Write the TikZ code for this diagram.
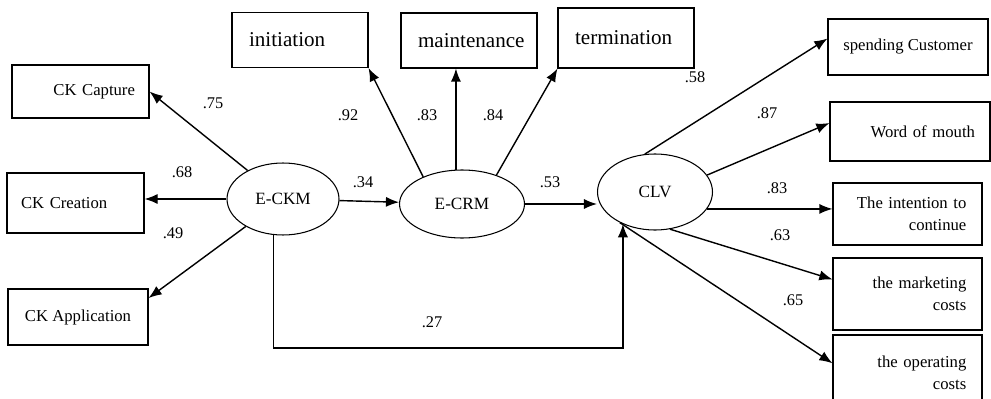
\documentclass[tikz,border=0pt]{standalone}
\usepackage{fontspec}
\setmainfont{Liberation Serif}
\usetikzlibrary{shapes,arrows,arrows.meta,positioning,calc}

\begin{document}
\begin{tikzpicture}[x=0.02cm, y=-0.02cm, >={Latex[length=7.5pt,width=5.8pt]},
    item/.style={draw, rectangle, line width=0.6pt, font=\fontsize{9.5}{12.5}\selectfont},
    dimbox/.style={draw, rectangle, line width=0.6pt, font=\fontsize{12}{14}\selectfont, minimum width=2.72cm, minimum height=1.1cm, text width=58pt, inner xsep=9pt, align=left},
    outbox/.style={item, minimum width=2.98cm, text width=67pt, inner xsep=8pt, align=right},
    latent/.style={draw, ellipse, line width=0.6pt, inner sep=0pt, font=\fontsize{9.8}{11}\selectfont},
    link/.style={->, line width=0.8pt},
    coef/.style={font=\fontsize{9.3}{10}\selectfont}]
    \useasboundingbox (0,0) rectangle (991,399);

    % Latent variables
    \node[latent, minimum width=2.24cm, minimum height=1.44cm] (eckm) at (283,199) {E-CKM};
    \node[latent, minimum width=2.5cm, minimum height=1.36cm] (ecrm) at (462,204) {E-CRM};
    \node[latent, minimum width=2.3cm, minimum height=1.52cm] (clv) at (655,192) {CLV};

    % Indicators of E-CKM
    \node[item, minimum width=2.7cm, minimum height=1.06cm, text width=62pt, inner xsep=8pt, align=right] (capture) at (80.5,91.5) {CK Capture};
    \node[item, minimum width=2.7cm, minimum height=1.2cm, text width=62pt, inner xsep=8pt, align=left] (creation) at (75.5,203) {CK Creation};
    \node[item, minimum width=2.8cm, minimum height=1.12cm] (application) at (78,317) {CK Application};

    % Indicators of E-CRM
    \node[dimbox] (initiation) at (300,40) {initiation};
    \node[dimbox] (maintenance) at (469,40.5) {maintenance};
    \node[dimbox, minimum height=1.2cm] (termination) at (626,38) {termination};

    % Indicators of CLV
    \node[item, minimum width=3.2cm, minimum height=1.12cm] (spending) at (908,47) {spending Customer};
    \node[outbox, minimum width=3.2cm, text width=74pt, minimum height=1.18cm] (mouth) at (910,131.5) {Word of mouth};
    \node[outbox, minimum height=1.24cm] (intention) at (907.5,214) {The intention to\\continue};
    \node[outbox, minimum height=1.44cm] (marketing) at (907.5,294) {the marketing\\costs};
    \node[outbox, minimum height=1.5cm] (operating) at (907.5,372.5) {the operating\\costs};

    % Paths
    \draw[link] (eckm) -- (capture.east);
    \draw[link] (eckm.west) -- (eckm.west -| creation.east);
    \draw[link] (eckm) -- (application.15);
    \draw[link] (eckm) -- (ecrm);
    \draw[link] (ecrm.145) -- (initiation.south east);
    \draw[link] (ecrm.100) -- (ecrm.100 |- maintenance.south);
    \draw[link] (ecrm.40) -- (termination.south west);
    \draw[link] (ecrm.east) -- (ecrm.east -| clv.west);
    \draw[link] (clv.105) -- (spending.174);
    \draw[link] (clv.18) -- (mouth.174);
    \draw[link] (clv.342) -- (clv.342 -| intention.west);
    \draw[link] (clv.292) -- (marketing.169);
    \draw[link] (clv.221) -- (operating.173);
    \draw[link] (eckm.255) -- ++(0,113) -| (clv.225);

    % Coefficients
    \node[coef] (c1) at (213,103) {.75};
    \node[coef] (c2) at (182,172) {.68};
    \node[coef] (c3) at (173,233) {.49};
    \node[coef] (c4) at (348,115) {.92};
    \node[coef] (c5) at (427,115) {.83};
    \node[coef] (c6) at (493,115) {.84};
    \node[coef] (c7) at (363,182) {.34};
    \node[coef] (c8) at (550,182) {.53};
    \node[coef] (c9) at (695,77) {.58};
    \node[coef] (c10) at (767,113) {.87};
    \node[coef] (c11) at (777,188) {.83};
    \node[coef] (c12) at (780,235) {.63};
    \node[coef] (c13) at (793,300) {.65};
    \node[coef] (c14) at (432,322) {.27};
\end{tikzpicture}
\end{document}
